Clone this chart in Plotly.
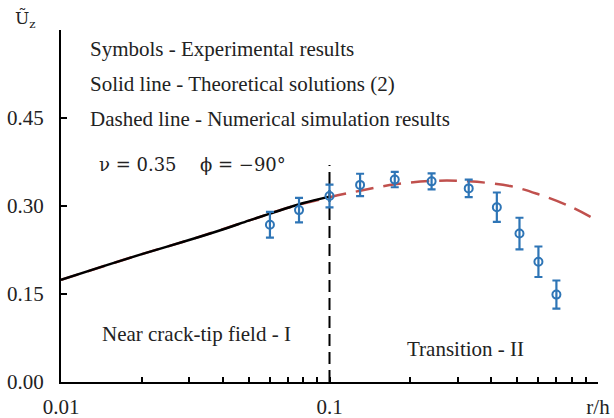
import plotly.graph_objects as go

# Experimental results
r_exp = [0.06, 0.077, 0.1, 0.13, 0.175, 0.24, 0.33, 0.42, 0.51, 0.6, 0.7]
u_exp = [0.268, 0.293, 0.317, 0.336, 0.345, 0.342, 0.330, 0.298, 0.253, 0.205, 0.149]
u_err = [0.022, 0.021, 0.0195, 0.019, 0.013, 0.0135, 0.015, 0.025, 0.027, 0.026, 0.024]

# Theoretical solution (2)
r_theory = [0.01, 0.015, 0.02, 0.03, 0.04, 0.05, 0.06, 0.07, 0.08, 0.1]
u_theory = [0.174, 0.200, 0.218, 0.242, 0.260, 0.275, 0.287, 0.297, 0.305, 0.316]

# Numerical simulation
r_num = [0.01, 0.02, 0.03, 0.05, 0.07, 0.1, 0.13, 0.176, 0.25, 0.33, 0.47, 0.6, 0.78, 0.95]
u_num = [0.174, 0.218, 0.242, 0.275, 0.297, 0.315, 0.326, 0.337, 0.343, 0.342, 0.334, 0.320, 0.300, 0.280]

# Boundary between zones
r_boundary = [0.1, 0.1]
u_boundary = [0.0, 0.37]

y_ticks = [0.0, 0.15, 0.30, 0.45, 0.60]
y_ticktext = ["0.00", "0.15", "0.30", "0.45", ""]
x_ticks = [0.01, 0.1, 1]
x_ticktext = ["0.01", "0.1", "r/h"]

FONT = "Liberation Serif"
BLUE = "#2E75B6"
RED = "#C0504D"

fig = go.Figure()
fig.add_trace(go.Scatter(x=r_num, y=u_num, mode="lines", line=dict(color=RED, width=2.5, dash="18px,10px", shape="spline"), showlegend=False))
fig.add_trace(go.Scatter(x=r_theory, y=u_theory, mode="lines", line=dict(color="black", width=2.5, shape="spline"), showlegend=False))
fig.add_trace(go.Scatter(x=r_boundary, y=u_boundary, mode="lines", line=dict(color="black", width=2, dash="12px,6px"), showlegend=False))
fig.add_trace(go.Scatter(x=r_exp, y=u_exp, mode="markers",
                         error_y=dict(type="data", array=u_err, color=BLUE, thickness=2.2, width=4),
                         marker=dict(symbol="circle-open", color=BLUE, size=8, line=dict(width=2)),
                         showlegend=False))

ann_font = dict(family=FONT, size=21, color="#222222")
annotations = [
    dict(x=-1.9, y=0.568, text="Symbols - Experimental results"),
    dict(x=-1.9, y=0.508, text="Solid line - Theoretical solutions (2)"),
    dict(x=-1.9, y=0.449, text="Dashed line - Numerical simulation results"),
    dict(x=-1.855, y=0.081, text="Near crack-tip field - I"),
    dict(x=-0.72, y=0.056, text="Transition - II"),
]
for a in annotations:
    fig.add_annotation(x=a["x"], y=a["y"], text=a["text"], xref="x", yref="y",
                       xanchor="left", yanchor="middle", showarrow=False, font=ann_font)

math_font = dict(family="DejaVu Serif", size=18, color="#222222")
fig.add_annotation(x=-1.865, y=0.371, text="ν = 0.35", xref="x", yref="y",
                   xanchor="left", yanchor="middle", showarrow=False, font=math_font)
fig.add_annotation(x=-1.49, y=0.371, text="ϕ = −90°", xref="x", yref="y",
                   xanchor="left", yanchor="middle", showarrow=False, font=math_font)
fig.add_annotation(x=-0.067, y=1.031, xref="paper", yref="paper", text="Ũ<sub>z</sub>",
                   showarrow=False, xanchor="center", yanchor="middle",
                   font=dict(family="DejaVu Serif", size=17, color="#222222"))

fig.update_layout(
    width=614, height=418,
    margin=dict(l=61, r=16, t=30, b=36, autoexpand=False),
    plot_bgcolor="white", paper_bgcolor="white",
    font=dict(family=FONT, size=21, color="#222222"),
)
fig.update_xaxes(type="log", range=[-2, 0], showgrid=False, zeroline=False, automargin=False,
                 showline=True, linecolor="black", linewidth=2,
                 tickvals=x_ticks, ticktext=x_ticktext, ticks="inside", ticklen=5,
                 tickcolor="black", tickwidth=1.5,
                 minor=dict(ticks="inside", ticklen=5, tickcolor="black", tickwidth=1.5, dtick="D1", showgrid=False),
                 ticklabelstandoff=5)
fig.update_yaxes(range=[0, 0.6], showgrid=False, zeroline=False, automargin=False,
                 showline=True, linecolor="black", linewidth=2,
                 tickvals=y_ticks, ticktext=y_ticktext, ticks="inside", ticklen=6,
                 tickcolor="black", tickwidth=1.5, ticklabelstandoff=11)

fig.write_html("out.html", config={"displayModeBar": False},
               post_script="document.body.style.margin='0';document.body.style.overflow='hidden';window.dispatchEvent(new Event('resize'));")
